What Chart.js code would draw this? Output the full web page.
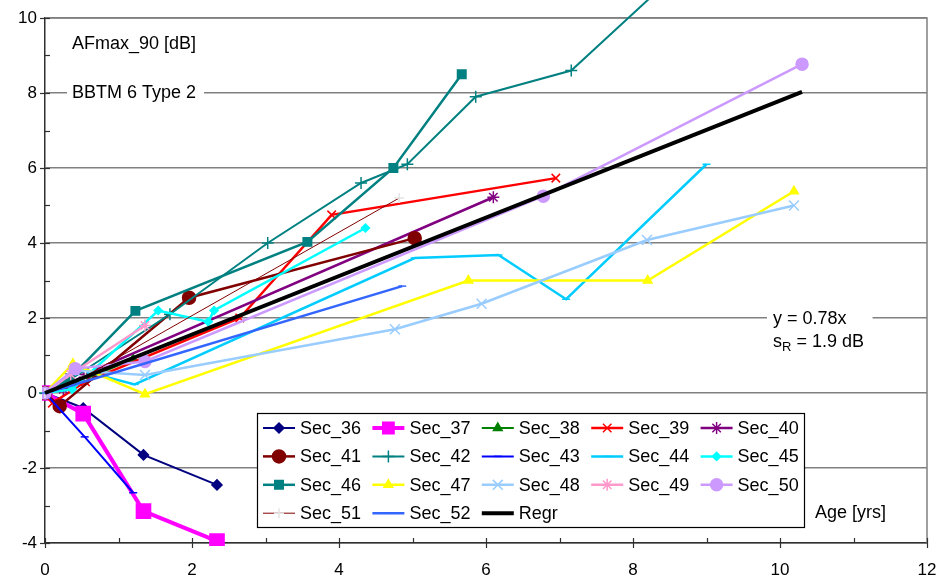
<!DOCTYPE html>
<html>
<head>
<meta charset="utf-8">
<title>AFmax_90 vs age</title>
<script src="https://cdn.jsdelivr.net/npm/chart.js@4.4.1/dist/chart.umd.min.js"></script>
<style>
  html, body { margin: 0; padding: 0; background: #ffffff; }
  #wrap { position: relative; width: 945px; height: 583px; }
</style>
</head>
<body>
<div id="wrap"><canvas id="chart"></canvas></div>
<script>
// [age in years, AFmax_90 change in dB] per section
const sec36 = [[0, 0], [0.52, -0.4], [1.34, -1.65], [2.34, -2.45]];
const sec37 = [[0, 0], [0.52, -0.55], [1.34, -3.15], [2.34, -3.95]];
const sec38 = [[0, 0], [0.27, 0.15], [1.2, 0.9]];
const sec39 = [[0, 0], [0.1, -0.27], [0.55, 0.3], [2.65, 2.0], [3.9, 4.75], [6.95, 5.73]];
const sec40 = [[0, 0], [0.25, 0.1], [0.54, 0.5], [6.1, 5.22]];
const sec41 = [[0, 0], [0.2, -0.35], [1.96, 2.54], [5.03, 4.13]];
const sec42 = [[0, 0], [0.3, 0.3], [1.7, 2.1], [3.03, 4.0], [4.3, 5.6], [4.93, 6.1], [5.86, 7.9], [7.16, 8.6], [8.6, 11.2]];
const sec43 = [[0, 0], [0.54, -1.17], [1.2, -2.66]];
const sec44 = [[0, 0], [0.5, 0.6], [1.22, 0.23], [5.03, 3.6], [6.17, 3.68], [7.09, 2.5], [9.0, 6.1]];
const sec45 = [[0, 0], [0.37, 0.1], [1.54, 2.2], [2.22, 1.9], [2.3, 2.2], [4.36, 4.4]];
const sec46 = [[0, 0], [0.34, 0.4], [1.23, 2.19], [3.57, 4.03], [4.74, 6.0], [5.67, 8.5]];
const sec47 = [[0, 0], [0.38, 0.78], [1.36, -0.03], [5.76, 3.0], [8.2, 3.0], [10.19, 5.38]];
const sec48 = [[0, 0], [0.4, 0.6], [1.36, 0.48], [4.76, 1.7], [5.94, 2.38], [8.19, 4.08], [10.19, 5.0]];
const sec49 = [[0, 0], [0.35, 0.5], [1.36, 1.8]];
const sec50 = [[0, 0], [0.41, 0.65], [1.36, 0.84], [6.78, 5.25], [10.3, 8.77]];
const sec51 = [[0, 0], [0.55, 0.45], [4.82, 5.2]];
const sec52 = [[0, 0], [0.36, 0.2], [4.86, 2.85]];
const regr = [[0, 0], [10.3, 8.03]];

const seriesNames = ["Sec_36", "Sec_37", "Sec_38", "Sec_39", "Sec_40", "Sec_41", "Sec_42", "Sec_43", "Sec_44",
  "Sec_45", "Sec_46", "Sec_47", "Sec_48", "Sec_49", "Sec_50", "Sec_51", "Sec_52", "Regr"];
const seriesPoints = [sec36, sec37, sec38, sec39, sec40, sec41, sec42, sec43, sec44,
  sec45, sec46, sec47, sec48, sec49, sec50, sec51, sec52, regr];

// styling per series (same order as seriesNames)
const lineColors = ["#000080", "#FF00FF", "#008000", "#FF0000", "#800080", "#800000", "#008080", "#0000FF", "#00CCFF",
  "#00FFFF", "#008080", "#FFFF00", "#99CCFF", "#FF99CC", "#CC99FF", "#800000", "#3366FF", "#000000"];
const markerColors = ["#000080", "#FF00FF", "#008000", "#FF0000", "#800080", "#800000", "#008080", "#0000FF", "#00CCFF",
  "#00FFFF", "#008080", "#FFFF00", "#99CCFF", "#FF99CC", "#CC99FF", "#E4E4E4", "#3366FF", "#000000"];
const lineWidths = [2, 4, 2, 2.5, 2.5, 2.5, 2, 2, 2.5, 2.5, 2.5, 2.5, 2.5, 2.5, 2.5, 1, 2.5, 4];
const markerStyles = ["rectRot", "rect", "triangle", "crossRot", "star", "circle", "cross", "line", "line",
  "rectRot", "rect", "triangle", "crossRot", "star", "circle", "cross", "line", false];
const markerSizes = [5, 10, 5, 6, 6, 6.5, 6, 4, 4, 4, 6, 5, 7, 6, 6, 5, 4, 0];

const font = '"Liberation Sans", Arial, sans-serif';

const datasets = seriesNames.map((name, i) => ({
  label: name,
  data: seriesPoints[i].map(([x, y]) => ({ x, y })),
  borderColor: lineColors[i],
  backgroundColor: markerColors[i],
  borderWidth: lineWidths[i],
  pointStyle: markerStyles[i],
  pointRadius: markerSizes[i],
  pointBackgroundColor: markerColors[i],
  pointBorderColor: markerColors[i],
  pointBorderWidth: 1.5,
  tension: 0,
  clip: name === "Sec_42" ? false : 3,
  order: seriesNames.length - i
}));

const overlay = {
  id: "overlay",
  beforeDatasetsDraw(chart) {
    const { ctx, chartArea: a, scales: { x, y } } = chart;
    ctx.save();

    // top and right frame of the plot area
    ctx.strokeStyle = "#808080";
    ctx.lineWidth = 1.5;
    ctx.beginPath();
    ctx.moveTo(a.left, a.top);
    ctx.lineTo(a.right, a.top);
    ctx.lineTo(a.right, a.bottom);
    ctx.stroke();

    // tick marks: majors cross the axis, minors point inward
    ctx.strokeStyle = "#303030";
    ctx.lineWidth = 1.2;
    x.ticks.forEach(t => {
      const px = Math.round(x.getPixelForValue(t.value)) + 0.5;
      const major = t.value % 2 === 0;
      ctx.beginPath();
      ctx.moveTo(px, a.bottom - 5);
      ctx.lineTo(px, a.bottom + (major ? 5 : 0));
      ctx.stroke();
    });
    y.ticks.forEach(t => {
      const py = Math.round(y.getPixelForValue(t.value)) + 0.5;
      const major = t.value % 2 === 0;
      ctx.beginPath();
      ctx.moveTo(a.left - (major ? 5 : 0), py);
      ctx.lineTo(a.left + 5, py);
      ctx.stroke();
    });

    // text labels inside the plot
    ctx.font = "18px " + font;
    ctx.textBaseline = "middle";
    ctx.textAlign = "left";
    const label = (text, lx, ly, padL, padR) => {
      const w = ctx.measureText(text).width;
      ctx.fillStyle = "#ffffff";
      ctx.fillRect(lx - padL, ly - 11, w + padL + padR, 22);
      ctx.fillStyle = "#000000";
      ctx.fillText(text, lx, ly);
    };
    ctx.fillStyle = "#000000";
    ctx.fillText("AFmax_90 [dB]", 72, 44);
    label("BBTM 6 Type 2", 72, y.getPixelForValue(8), 5, 8);
    label("y = 0.78x", 773, y.getPixelForValue(2) + 1, 6, 26);

    const sy = y.getPixelForValue(2) + 24;
    ctx.fillText("s", 773, sy);
    const sw = ctx.measureText("s").width;
    ctx.font = "13px " + font;
    ctx.fillText("R", 773 + sw, sy + 5);
    const rw = ctx.measureText("R").width;
    ctx.font = "18px " + font;
    ctx.fillText(" = 1.9 dB", 773 + sw + rw, sy);

    ctx.fillText("Age [yrs]", 815, 513);
    ctx.restore();
  },
  afterDatasetsDraw(chart) {
    const { ctx } = chart;
    const box = { left: 257, top: 413, width: 547, height: 114 };
    const colW = 109.4, rowH = 28.4;
    ctx.save();
    ctx.fillStyle = "#ffffff";
    ctx.fillRect(box.left, box.top, box.width, box.height);
    ctx.strokeStyle = "#000000";
    ctx.lineWidth = 1.2;
    ctx.strokeRect(box.left + 0.5, box.top + 0.5, box.width, box.height);

    ctx.font = "18px " + font;
    ctx.textBaseline = "middle";
    chart.data.datasets.forEach((ds, i) => {
      const c = i % 5, r = Math.floor(i / 5);
      const sx = box.left + 6 + c * colW;
      const cy = box.top + 15 + r * rowH;
      ctx.strokeStyle = ds.borderColor;
      ctx.lineWidth = ds.borderWidth;
      ctx.beginPath();
      ctx.moveTo(sx, cy);
      ctx.lineTo(sx + 32, cy);
      ctx.stroke();
      if (ds.pointStyle && ds.pointRadius > 0) {
        ctx.fillStyle = ds.pointBackgroundColor;
        ctx.strokeStyle = ds.pointBorderColor;
        ctx.lineWidth = ds.pointBorderWidth;
        Chart.helpers.drawPoint(ctx, {
          pointStyle: ds.pointStyle,
          radius: Math.min(ds.pointRadius, 8),
          rotation: 0,
          borderWidth: ds.pointBorderWidth
        }, sx + 16, cy);
      }
      ctx.fillStyle = "#000000";
      ctx.fillText(ds.label, sx + 37, cy + 1);
    });
    ctx.restore();
  }
};

new Chart(document.getElementById("chart").getContext("2d"), {
  type: "line",
  data: { datasets },
  options: {
    responsive: true,
    maintainAspectRatio: false,
    animation: false,
    events: [],
    layout: { padding: { top: 18, right: 18, left: 0, bottom: 0 } },
    plugins: {
      legend: { display: false },
      tooltip: { enabled: false }
    },
    scales: {
      x: {
        type: "linear",
        min: 0,
        max: 12,
        afterFit: s => { s.height = 40; s.paddingLeft = 0; s.paddingRight = 0; },
        ticks: {
          stepSize: 1,
          autoSkip: false,
          maxRotation: 0,
          padding: 17,
          color: "#000000",
          font: { family: font, size: 17 },
          callback: v => (v % 2 === 0 ? v : "")
        },
        grid: { drawOnChartArea: false, drawTicks: false },
        border: { color: "#303030", width: 1.5 }
      },
      y: {
        type: "linear",
        min: -4,
        max: 10,
        afterFit: s => { s.width = 45; s.paddingTop = 0; s.paddingBottom = 0; },
        ticks: {
          stepSize: 1,
          autoSkip: false,
          padding: 8,
          color: "#000000",
          font: { family: font, size: 17 },
          callback: v => (v % 2 === 0 ? v : "")
        },
        grid: {
          drawTicks: false,
          lineWidth: 1.5,
          color: c => (c.tick && c.tick.value % 2 === 0 ? "#808080" : "rgba(0,0,0,0)")
        },
        border: { color: "#303030", width: 1.5 }
      }
    }
  },
  plugins: [overlay]
});
</script>
</body>
</html>
